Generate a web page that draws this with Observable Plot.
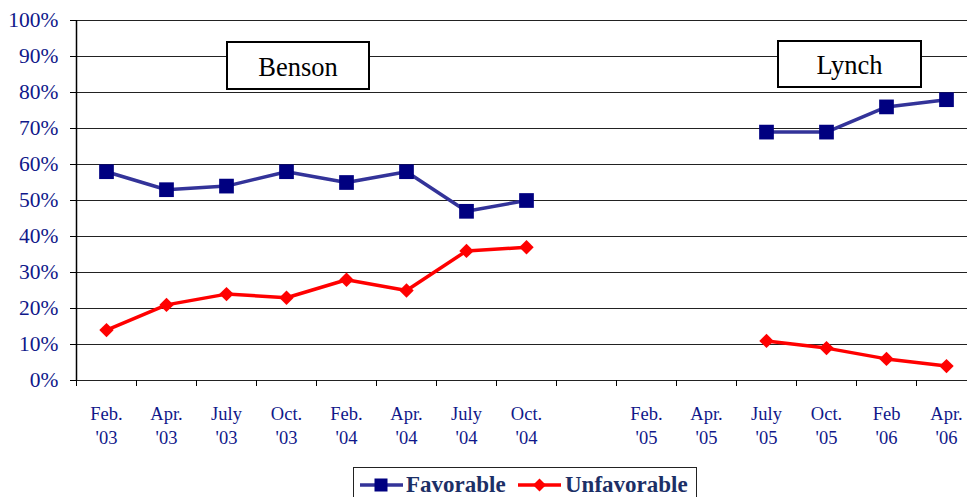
<!DOCTYPE html>
<html><head><meta charset="utf-8">
<script src="https://cdn.jsdelivr.net/npm/d3@7"></script>
<script src="https://cdn.jsdelivr.net/npm/@observablehq/plot@0.6"></script>
<style>
body{margin:0;width:967px;height:497px;overflow:hidden;background:#fff;position:relative;font-family:'Liberation Serif',serif}
#chart{position:absolute;left:0;top:0}
.box{position:absolute;box-sizing:border-box;border:2px solid #000;background:#fff;font-size:26.5px;color:#000;display:flex;align-items:center;justify-content:center;padding-top:3px}
#legend{position:absolute;left:353px;top:467px;width:344px;height:40px;box-sizing:border-box;border:1.5px solid #222;background:#fff}
#legend span{position:absolute;top:2px;font-weight:bold;font-size:23px;color:#1c2f66;line-height:30px}
#legend svg{position:absolute;top:9px}
</style>
</head><body>
<div id="chart"></div>
<div class="box" style="left:226px;top:41px;width:144px;height:49px;">Benson</div>
<div class="box" style="left:777px;top:40px;width:145px;height:48px;">Lynch</div>
<div id="legend">
  <svg width="43" height="16" style="left:6px"><line x1="0" y1="8" x2="43" y2="8" stroke="#333399" stroke-width="3.5"/><rect x="14.5" y="1.5" width="13" height="13" fill="#000080"/></svg>
  <span style="left:52px">Favorable</span>
  <svg width="43" height="16" style="left:164px"><line x1="0" y1="8" x2="43" y2="8" stroke="#ff0000" stroke-width="3.5"/><path d="M21.5,1.5 L28,8 L21.5,14.5 L15,8 Z" fill="#ff0000"/></svg>
  <span style="left:211px">Unfavorable</span>
</div>
<script>
const periods = ["Feb.\n'03","Apr.\n'03","July\n'03","Oct.\n'03","Feb.\n'04","Apr.\n'04","July\n'04","Oct.\n'04","","Feb.\n'05","Apr.\n'05","July\n'05","Oct.\n'05","Feb\n'06","Apr.\n'06"];
const favorable   = [58,53,54,58,55,58,47,50,null,null,null,69,69,76,78];
const unfavorable = [14,21,24,23,28,25,36,37,null,null,null,11,9,6,4];
const yTicks = [0,10,20,30,40,50,60,70,80,90,100];
const bandEdges = d3.range(periods.length + 1);

const rows = periods.map((p, i) => ({i, label: p, fav: favorable[i], unf: unfavorable[i]}));
const xc = d => d.i + 0.5;
const serif = "Liberation Serif";

const chart = Plot.plot({
  width: 967, height: 460,
  marginLeft: 76, marginRight: 0, marginTop: 20, marginBottom: 80,
  style: {fontFamily: serif, background: "white", overflow: "visible"},
  x: {type: "linear", domain: [0, periods.length], range: [76, 976]},
  y: {domain: [0, 100], range: [380, 20]},
  marks: [
    Plot.ruleY(yTicks, {stroke: "#222", strokeWidth: 1.2}),
    Plot.ruleX([0], {y1: 0, y2: 100, stroke: "#000", strokeWidth: 1.5}),
    Plot.axisY({ticks: yTicks, tickSize: 6, tickPadding: 12, tickFormat: d => d + "%", fontSize: 21.5, fontFamily: serif, stroke: "#000", fill: "#10188a", label: null}),
    Plot.axisX({ticks: bandEdges, tickSize: 6, tickFormat: () => "", stroke: "#000", label: null}),
    Plot.text(rows, {x: xc, y: 0, text: "label", dy: 44, lineHeight: 1.3, fontSize: 18.5, fontFamily: serif, fill: "#10188a"}),
    Plot.line(rows, {x: xc, y: "fav", stroke: "#333399", strokeWidth: 3.5}),
    Plot.dot(rows, {x: xc, y: "fav", symbol: "square", r: 8.3, fill: "#000080", stroke: "none"}),
    Plot.line(rows, {x: xc, y: "unf", stroke: "#ff0000", strokeWidth: 3.5}),
    Plot.dot(rows, {x: xc, y: "unf", symbol: "diamond2", r: 6.5, fill: "#ff0000", stroke: "none"})
  ]
});
document.getElementById("chart").appendChild(chart);
</script>
</body></html>
